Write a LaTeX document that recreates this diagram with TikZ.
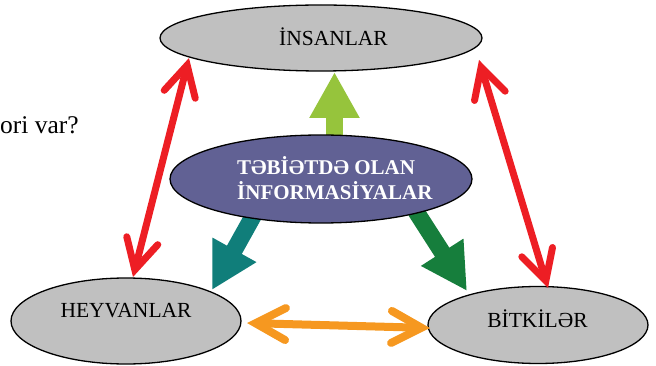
\documentclass[tikz,border=0pt]{standalone}
\usepackage{fontspec}
\setmainfont{Liberation Serif}
\usetikzlibrary{shapes.geometric,arrows.meta}
\definecolor{ellgray}{RGB}{192,192,192}
\definecolor{ellpurple}{RGB}{97,97,148}
\definecolor{arrred}{RGB}{237,30,36}
\definecolor{arrorange}{RGB}{246,152,32}
\definecolor{arrlgreen}{RGB}{150,196,60}
\definecolor{arrteal}{RGB}{16,126,122}
\definecolor{arrdgreen}{RGB}{22,126,60}
\begin{document}
\begin{tikzpicture}[x=1pt,y=-1pt,
  grayell/.style={ellipse, draw=black, line width=1.3pt, fill=ellgray, inner sep=0pt},
  purpell/.style={ellipse, draw=black, line width=1.3pt, fill=ellpurple, inner sep=0pt},
  lbl/.style={inner sep=0pt, font=\fontsize{21.5}{25}\selectfont},
  blockarr/.style={line width=17pt, -{Triangle[length=46pt,width=47pt]}},
  dblarr/.style={line width=7pt, {Straight Barb[length=30pt,width=32pt,line cap=round]}-{Straight Barb[length=30pt,width=32pt,line cap=round]}}
]
\useasboundingbox (0,0) rectangle (656,366);

% gray ellipses
\node[grayell, minimum width=322pt, minimum height=66pt] (ins) at (321,38) {};
\node[grayell, minimum width=230pt, minimum height=86pt] (hey) at (126,321) {};
\node[grayell, minimum width=220pt, minimum height=77pt] (bit) at (538,325) {};

% block arrows
\coordinate (gS) at (334.5,142);
\coordinate (gT) at (334.5,72);
\coordinate (tS) at (256,211);
\coordinate (tT) at (212,290);
\coordinate (dS) at (415.7,211);
\coordinate (dT) at (467,291);
\draw[blockarr, arrlgreen] (gS) -- (gT);
\draw[blockarr, arrteal] (tS) -- (tT);
\draw[blockarr, arrdgreen] (dS) -- (dT);

% central ellipse
\node[purpell, minimum width=302pt, minimum height=88pt] (info) at (321,179) {};

% double arrows
\coordinate (rlA) at (189,58);
\coordinate (rlB) at (133,277);
\coordinate (rrA) at (479,60);
\coordinate (rrB) at (548,288);
\coordinate (oA) at (247,323);
\coordinate (oB) at (430,328);
\draw[dblarr, arrred] (rlA) -- (rlB);
\draw[dblarr, arrred] (rrA) -- (rrB);
\draw[dblarr, arrorange, line width=8pt] (oA) -- (oB);

% texts
\node[lbl] (insT) at (333.5,37) {İNSANLAR};
\node[lbl] (heyT) at (126,311) {HEYVANLAR};
\node[lbl] (bitT) at (537.5,319) {BİTKİLƏR};
\node[inner sep=0pt, anchor=base west, align=left, text=white,
      font=\fontsize{21}{25}\selectfont\bfseries] (infoT) at (237,200)
      {TƏBİƏTDƏ OLAN\\İNFORMASİYALAR};
\node[inner sep=0pt, anchor=base west, font=\fontsize{25.5}{30}\selectfont] (q) at (0,134) {ori var?};
\end{tikzpicture}
\end{document}
